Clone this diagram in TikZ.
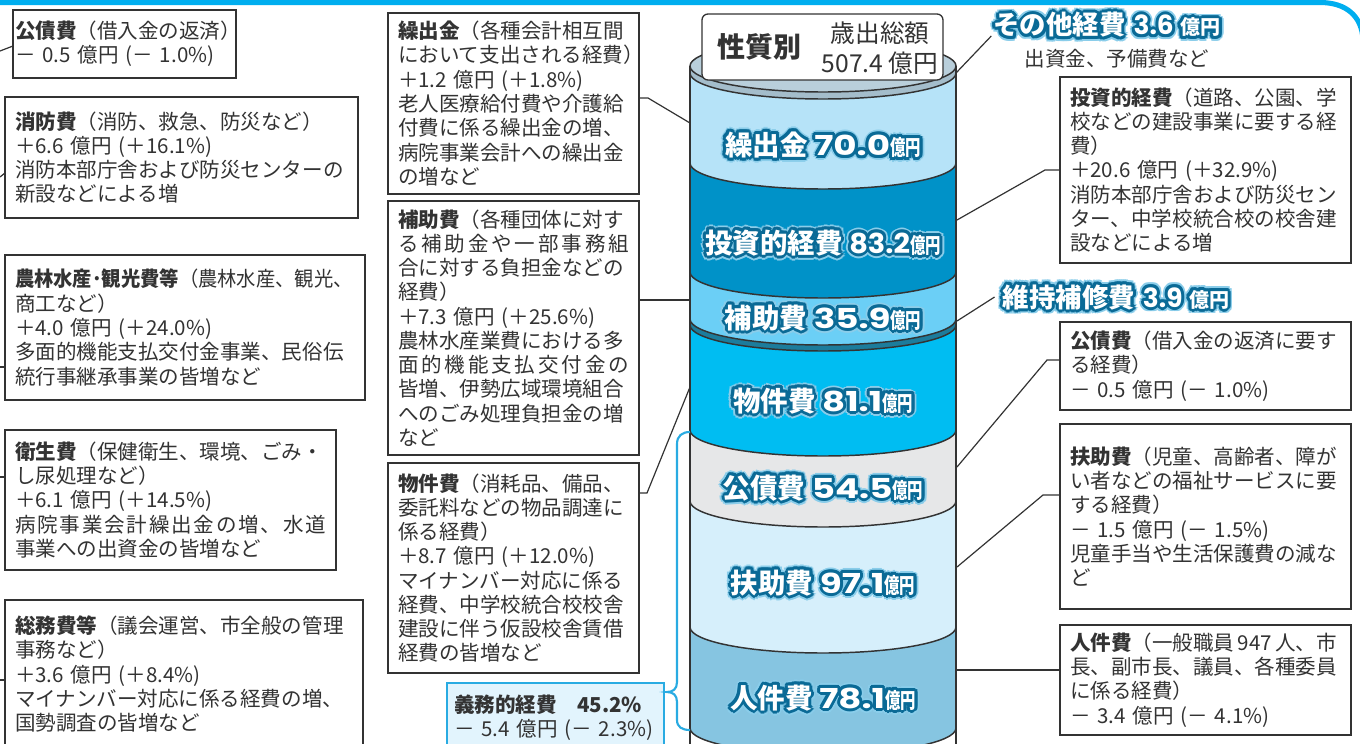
\documentclass[tikz,border=0pt]{standalone}
\usepackage{fontspec}
\usepackage{graphicx}
\setmainfont{Noto Sans CJK JP}
\newfontfamily\numfont{Poppins}
\usetikzlibrary{calc}
\definecolor{toplinec}{HTML}{00AEEF}
\definecolor{topc}{HTML}{B9CFDB}
\definecolor{rimc}{HTML}{A4BDCB}
\definecolor{kuric}{HTML}{B6E3F8}
\definecolor{toushic}{HTML}{0092C8}
\definecolor{hojoc}{HTML}{6BCFF6}
\definecolor{ijic}{HTML}{1C7C9C}
\definecolor{bukkenc}{HTML}{00BDF2}
\definecolor{kousaic}{HTML}{E6E7E8}
\definecolor{fujoc}{HTML}{D6EFFB}
\definecolor{jinkenc}{HTML}{86C5E1}
\definecolor{olc}{HTML}{0A6A96}
\definecolor{glowc}{HTML}{8ACDEA}
\definecolor{gimuc}{HTML}{E2F4FD}
\definecolor{bracec}{HTML}{29ABE2}
\definecolor{linec}{HTML}{333333}
\definecolor{txtc}{HTML}{333333}

\makeatletter
\newcommand\sprd[1]{\makebox[\linewidth][s]{\sprd@#1\@nil}}
\def\sprd@#1#2\@nil{#1\if\relax\detokenize{#2}\relax\else\hfil\sprd@#2\@nil\fi}
\makeatother
\newcommand\rp{\makebox[0.5em][l]{）}}

\tikzset{
  tbox/.style={draw=linec, line width=0.9pt, fill=white, anchor=north west, align=left,
    inner ysep=0pt, outer sep=0pt, text=txtc, font=\fontsize{15.4}{18.2}\selectfont},
  conn/.style={draw=linec, line width=0.9pt},
  cylline/.style={draw=linec, line width=1.1pt},
  olbl/.style={inner sep=0pt, anchor=center},
  topline/.style={draw=toplinec, line width=3.8pt},
  bracestyle/.style={draw=bracec, line width=1.6pt},
  ttl/.style={inner sep=0pt, text=txtc}
}

% box: [pad px]{name}{x}{y}{W}{H}{content}
\newcommand\tbox[7][10]{%
  \pgfmathsetmacro\tw{(#5-2*#1)*0.75}%
  \pgfmathsetmacro\mw{#5*0.75}%
  \pgfmathsetmacro\mh{#6*0.75}%
  \pgfmathsetmacro\px{#1*0.75}%
  \node[tbox, inner xsep=\px pt, text width=\tw pt, minimum width=\mw pt, minimum height=\mh pt] (#2) at (#3,#4) {#7};}

\newcommand\cylseg[3]{%
  \fill[#3] (690,#1) .. controls (690,#1+14.36) and (749.5,#1+26) .. (823,#1+26)
     .. controls (896.5,#1+26) and (956,#1+14.36) .. (956,#1) -- (956,#2)
     .. controls (956,#2+14.36) and (896.5,#2+26) .. (823,#2+26)
     .. controls (749.5,#2+26) and (690,#2+14.36) .. (690,#2) -- cycle;}
\newcommand\cylarc[1]{%
  \draw[cylline] (690,#1) .. controls (690,#1+14.36) and (749.5,#1+26) .. (823,#1+26)
     .. controls (896.5,#1+26) and (956,#1+14.36) .. (956,#1);}

\newcommand\cyl[3][1.3]{{\bfseries\fontsize{20.6}{22}\selectfont #2}\hspace{5pt}{\numfont\bfseries\fontsize{20.6}{22}\selectfont\scalebox{#1}[1]{#3}}{\bfseries\fontsize{16}{17}\selectfont\scalebox{0.72}[1]{億円}}}
\newcommand\sidel[2]{{\bfseries\fontsize{19.8}{21}\selectfont #1}\hspace{6pt}{\numfont\bfseries\fontsize{19.8}{21}\selectfont #2}\hspace{5pt}{\bfseries\fontsize{15}{16}\selectfont 億円}}

% outlined label: {name}{x,y}{content}
\newcommand\olabel[3]{%
  \foreach \a in {0,30,...,330}{\node[olbl,text=glowc] at ($(#2)+(\a:4.8)$) {#3};}
  \foreach \a in {0,30,...,330}{\node[olbl,text=olc] at ($(#2)+(\a:3.0)$) {#3};}
  \node[olbl,text=white] (#1) at (#2) {#3};}

\begin{document}
\begin{tikzpicture}[x=0.75pt,y=-0.75pt]
\useasboundingbox (0,0) rectangle (1360,743);
\clip (0,0) rectangle (1360,743);
\fill[white] (0,0) rectangle (1360,743);

% frame line
\draw[topline] (-5,2.5) -- (1320,2.5) .. controls (1346,2.5) and (1362,16) .. (1363,40) -- (1363,760);

% cylinder
\cylseg{66}{73}{rimc}
\cylseg{73}{163}{kuric}
\cylseg{163}{272}{toushic}
\cylseg{272}{319}{hojoc}
\cylseg{319}{325}{ijic}
\cylseg{325}{430}{bukkenc}
\cylseg{430}{501}{kousaic}
\cylseg{501}{627}{fujoc}
\cylseg{627}{728}{jinkenc}
\filldraw[fill=topc, cylline] (690,66) .. controls (690,51.64) and (749.5,40) .. (823,40)
  .. controls (896.5,40) and (956,51.64) .. (956,66)
  .. controls (956,80.36) and (896.5,92) .. (823,92)
  .. controls (749.5,92) and (690,80.36) .. (690,66) -- cycle;
\foreach \yy in {73,163,272,319,325,430,501,627,728}{\cylarc{\yy}}
\draw[cylline] (690,66) -- (690,760);
\draw[cylline] (956,66) -- (956,760);

% title box
\node[draw=linec, line width=1pt, fill=white, rounded corners=4.5pt, anchor=north west,
  outer sep=0pt, minimum width=180.75pt, minimum height=49.5pt] (title) at (702,14) {};
\node[ttl, font=\bfseries\fontsize{21}{22}\selectfont] (ttlA) at (759,47) {性質別};
\node[ttl, font=\fontsize{18.5}{20}\selectfont] (ttlB) at (880,33) {歳出総額};
\node[ttl, font=\fontsize{18.5}{20}\selectfont] (ttlC) at (880,63) {507.4 億円};

% cylinder labels
\olabel{lkuri}{823,145}{\cyl{繰出金}{70.0}}
\olabel{ltoushi}{823,243}{\cyl[1.05]{投資的経費}{83.2}}
\olabel{lhojo}{823,318}{\cyl{補助費}{35.9}}
\olabel{lbukken}{823,401}{\cyl{物件費}{81.1}}
\olabel{lkousai}{823,488}{\cyl{公債費}{54.5}}
\olabel{lfujo}{823,583}{\cyl{扶助費}{97.1}}
\olabel{ljinken}{823,698}{\cyl{人件費}{78.1}}

% side labels
\olabel{sonota}{1107,25}{\sidel{その他経費}{3.6}}
\node[ttl, font=\fontsize{15.4}{18}\selectfont] (sonotaT) at (1117,59) {出資金、予備費など};
\olabel{iji}{1116,297}{\sidel{維持補修費}{3.9}}

% left boxes
\tbox[2]{L1}{13}{10}{223}{68}{\textbf{公債費}（借入金の返済\rp\\－ 0.5 億円 (－ 1.0\%)}
\tbox{L2}{5}{97}{353}{121}{\textbf{消防費}（消防、救急、防災など）\\＋6.6 億円 (＋16.1\%)\\消防本部庁舎および防災センターの\\新設などによる増}
\tbox{L3}{5}{255}{360}{145}{\scalebox{0.94}[1]{\textbf{農林水産･観光費等}（農林水産、観光、}\\商工など）\\＋4.0 億円 (＋24.0\%)\\多面的機能支払交付金事業、民俗伝\\統行事継承事業の皆増など}
\tbox{L4}{5}{430}{331}{140}{\textbf{衛生費}（保健衛生、環境、ごみ・\\し尿処理など）\\＋6.1 億円 (＋14.5\%)\\\sprd{病院事業会計繰出金の増、水道}\\事業への出資金の皆増など}
\tbox{L5}{5}{600}{358}{148}{\textbf{総務費等}（議会運営、市全般の管理\\事務など）\\＋3.6 億円 (＋8.4\%)\\マイナンバー対応に係る経費の増、\\国勢調査の皆増など}

% middle boxes
\tbox{M1}{388}{13}{251}{181}{\textbf{繰出金}（各種会計相互間\\において支出される経費\rp\\＋1.2 億円 (＋1.8\%)\\老人医療給付費や介護給\\付費に係る繰出金の増、\\病院事業会計への繰出金\\の増など}
\tbox{M2}{388}{201}{251}{254}{\textbf{補助費}（各種団体に対す\\\sprd{る補助金や一部事務組}\\合に対する負担金などの\\経費）\\＋7.3 億円 (＋25.6\%)\\農林水産業費における多\\\sprd{面的機能支払交付金の}\\皆増、伊勢広域環境組合\\へのごみ処理負担金の増\\など}
\tbox{M3}{388}{463}{251}{210}{\textbf{物件費}（消耗品、備品、\\委託料などの物品調達に\\係る経費）\\＋8.7 億円 (＋12.0\%)\\マイナンバー対応に係る\\経費、中学校統合校校舎\\建設に伴う仮設校舎賃借\\経費の皆増など}
\pgfmathsetmacro\gw{(217-14)*0.75}
\node[tbox, draw=bracec, line width=1.5pt, fill=gimuc, inner xsep=5.25pt, text width=\gw pt,
  minimum width=162.75pt, minimum height=52.5pt] (gimu) at (447,683)
  {\textbf{義務的経費　45.2\%}\\－ 5.4 億円 (－ 2.3\%)};

% right boxes
\tbox{R1}{1060}{77}{291}{186}{\textbf{投資的経費}（道路、公園、学\\校などの建設事業に要する経\\費）\\＋20.6 億円 (＋32.9\%)\\消防本部庁舎および防災セン\\ター、中学校統合校の校舎建\\設などによる増}
\tbox{R2}{1060}{322}{291}{88}{\textbf{公債費}（借入金の返済に要す\\る経費）\\－ 0.5 億円 (－ 1.0\%)}
\tbox{R3}{1060}{424}{291}{185}{\textbf{扶助費}（児童、高齢者、障が\\い者などの福祉サービスに要\\する経費）\\－ 1.5 億円 (－ 1.5\%)\\児童手当や生活保護費の減な\\ど}
\tbox{R4}{1060}{625}{291}{110}{\mbox{\textbf{人件費}（一般職員\,947\,人、市}\\長、副市長、議員、各種委員\\に係る経費）\\－ 3.4 億円 (－ 4.1\%)}

% connectors
\coordinate (s1) at (0,51);
\coordinate (s2) at (0,177);
\coordinate (s3) at (0,367);
\coordinate (s4) at (0,477);
\coordinate (s5) at (0,680);
\draw[conn] ($(L1.north west)+(0,36)$) -- (s1);
\draw[conn] ($(L2.north west)+(0,76)$) -- (s2);
\draw[conn] ($(L3.north west)+(0,112)$) -- (s3);
\draw[conn] ($(L4.north west)+(0,47)$) -- (s4);
\draw[conn] ($(L5.north west)+(0,80)$) -- (s5);

\coordinate (pA) at (690,123);
\coordinate (pB) at (690,300);
\coordinate (pC) at (690,387);
\coordinate (pD) at (956,73);
\coordinate (pE) at (957,220);
\coordinate (pF) at (957,321);
\coordinate (pG) at (957,467);
\coordinate (pH) at (957,567);
\coordinate (pI) at (957,670);
\draw[conn] ($(M1.north east)+(0,85)$) -- ++(9,0) -- (pA);
\draw[conn] ($(M2.north east)+(0,99)$) -- (pB);
\draw[conn] ($(M3.north east)+(0,30)$) -- ++(8,0) -- (pC);
\draw[conn] (pD) -- ($(sonota.west)+(-2,11)$);
\draw[conn] ($(R1.north west)+(0,93)$) -- ++(-15,0) -- (pE);
\draw[conn] (pF) -- ($(iji.west)+(-8,0)$);
\draw[conn] ($(R2.north west)+(0,38)$) -- ++(-13,0) -- (pG);
\draw[conn] ($(R3.north west)+(0,71)$) -- ++(-17,0) -- (pH);
\draw[conn] ($(R4.north west)+(0,45)$) -- (pI);

% brace
\draw[bracestyle] (690,432) .. controls (682,432) and (677,436) .. (677,444) -- (677,682)
  .. controls (677,689) and (673,692) .. (667,692)
  .. controls (673,692) and (677,695) .. (677,702) -- (677,720)
  .. controls (677,727) and (682,730) .. (690,730);
\end{tikzpicture}
\end{document}
